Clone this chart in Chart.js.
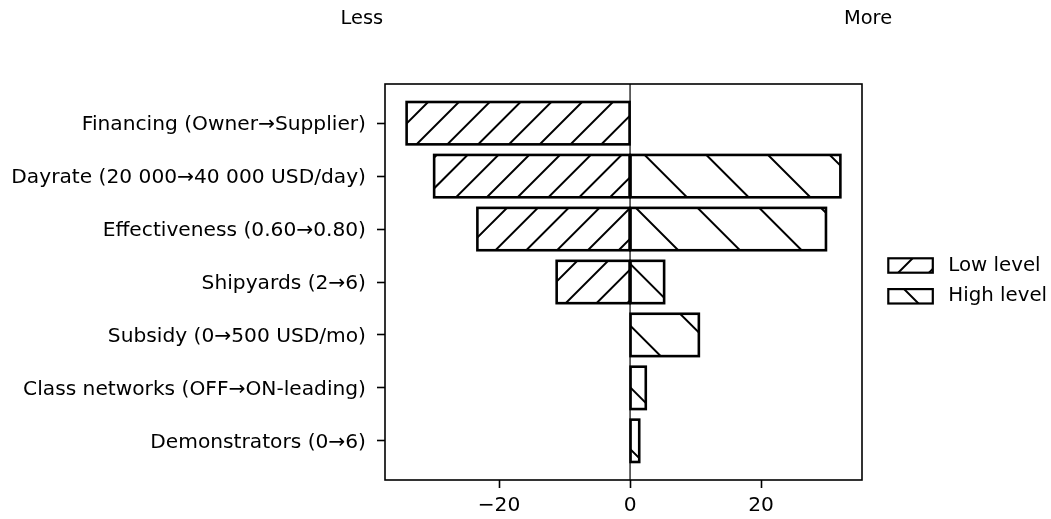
<!DOCTYPE html>
<html>
<head>
<meta charset="utf-8">
<script src="https://cdn.jsdelivr.net/npm/chart.js@4.4.1/dist/chart.umd.min.js"></script>
<style>
  html, body { margin: 0; padding: 0; background: #fff; }
  canvas { display: block; }
</style>
</head>
<body>
<canvas id="tornado" width="1051" height="519"></canvas>
<script>
// Drivers, top to bottom
const categories = [
  'Financing (Owner→Supplier)',
  'Dayrate (20 000→40 000 USD/day)',
  'Effectiveness (0.60→0.80)',
  'Shipyards (2→6)',
  'Subsidy (0→500 USD/mo)',
  'Class networks (OFF→ON-leading)',
  'Demonstrators (0→6)'
];
// Change in outcome when each driver is set to its low / high level
const lowLevel  = [-34.1, -29.9, -23.3, -11.2, 0, 0, 0];
const highLevel = [0, 32.1, 29.9, 5.2, 10.5, 2.4, 1.4];
const seriesNames = ['Low level', 'High level'];
const xTickValues = [-20, 0, 20];
const sideLabels = ['Less', 'More'];

const FONT_FAMILY = "'DejaVu Sans', sans-serif";
const TICK_FONT_SIZE = 20.2;
const LEGEND_FONT_SIZE = 19.8;
const SIDE_FONT_SIZE = 19.4;
const hatchStyles = ['/', '\\'];
const HATCH = {
  '/':  { spacing: 30.8, phase: 6.5 },
  '\\': { spacing: 61.7, phase: 57.8 }
};

// Diagonal hatch lines clipped to a rectangle, on a grid anchored to the canvas
function drawHatch(ctx, x, y, w, h, style, phaseOverride) {
  const cfg = HATCH[style];
  const s = cfg.spacing;
  const phase = phaseOverride !== undefined ? phaseOverride : cfg.phase;
  ctx.save();
  ctx.beginPath();
  ctx.rect(x, y, w, h);
  ctx.clip();
  ctx.beginPath();
  if (style === '/') {
    const cMin = x + y, cMax = x + w + y + h;
    for (let c = phase + Math.ceil((cMin - phase) / s) * s; c <= cMax + s; c += s) {
      ctx.moveTo(c - y + 3, y - 3);
      ctx.lineTo(c - (y + h) - 3, y + h + 3);
    }
  } else {
    const cMin = x - (y + h), cMax = x + w - y;
    for (let c = phase + Math.floor((cMin - phase) / s) * s; c <= cMax + s; c += s) {
      ctx.moveTo(c + y - 3, y - 3);
      ctx.lineTo(c + y + h + 3, y + h + 3);
    }
  }
  ctx.lineWidth = 2;
  ctx.strokeStyle = '#000';
  ctx.stroke();
  ctx.restore();
}

const tornadoDecor = {
  id: 'tornadoDecor',
  beforeDatasetsDraw(chart) {
    const { ctx, chartArea: a, scales: { x } } = chart;
    const x0 = x.getPixelForValue(0);
    ctx.save();
    ctx.strokeStyle = '#000';
    ctx.lineWidth = 1.2;
    ctx.beginPath();
    ctx.moveTo(x0, a.top);
    ctx.lineTo(x0, a.bottom);
    ctx.stroke();
    ctx.restore();
  },
  afterDatasetsDraw(chart) {
    const ctx = chart.ctx;
    chart.data.datasets.forEach((ds, di) => {
      const meta = chart.getDatasetMeta(di);
      meta.data.forEach(el => {
        const p = el.getProps(['x', 'y', 'base', 'height'], true);
        const left = Math.min(p.x, p.base);
        const w = Math.abs(p.x - p.base);
        if (w < 0.5) return;
        const top = p.y - p.height / 2;
        drawHatch(ctx, left, top, w, p.height, hatchStyles[di]);
        ctx.save();
        ctx.strokeStyle = '#000';
        ctx.lineWidth = 2.6;
        ctx.strokeRect(left, top, w, p.height);
        ctx.restore();
      });
    });
  },
  afterDraw(chart) {
    const { ctx, chartArea: a, width } = chart;
    ctx.save();
    // axes frame
    ctx.strokeStyle = '#000';
    ctx.lineWidth = 1.6;
    ctx.strokeRect(a.left, a.top, a.right - a.left, a.bottom - a.top);

    // direction labels above the plot
    ctx.fillStyle = '#000';
    ctx.font = SIDE_FONT_SIZE + 'px ' + FONT_FAMILY;
    ctx.textAlign = 'center';
    ctx.textBaseline = 'alphabetic';
    ctx.fillText(sideLabels[0], width * 0.3443, 24);
    ctx.fillText(sideLabels[1], width * 0.8259, 24);

    // legend
    ctx.font = LEGEND_FONT_SIZE + 'px ' + FONT_FAMILY;
    const midY = (a.top + a.bottom) / 2;
    const boxX = a.right + 26.3, boxW = 44.5, boxH = 14.4;
    const rows = [midY - 16.5, midY + 14.3];
    const legendPhase = [0.5, 59.7];
    seriesNames.forEach((name, i) => {
      const cy = rows[i];
      const by = cy - boxH / 2;
      ctx.fillStyle = '#fff';
      ctx.fillRect(boxX, by, boxW, boxH);
      drawHatch(ctx, boxX, by, boxW, boxH, hatchStyles[i], legendPhase[i]);
      ctx.strokeStyle = '#000';
      ctx.lineWidth = 2.2;
      ctx.strokeRect(boxX, by, boxW, boxH);
      ctx.fillStyle = '#000';
      ctx.textAlign = 'left';
      ctx.textBaseline = 'middle';
      ctx.fillText(name, boxX + 60, cy);
    });
    ctx.restore();
  }
};

const tickFont = { family: FONT_FAMILY, size: TICK_FONT_SIZE };
const axisGrid = {
  offset: false,
  drawOnChartArea: false,
  drawTicks: true,
  tickLength: 8,
  tickWidth: 1.6,
  tickColor: '#000',
  color: '#000'
};

new Chart(document.getElementById('tornado'), {
  type: 'bar',
  data: {
    datasets: [
      {
        label: seriesNames[0],
        data: lowLevel.map((v, i) => ({ x: v, y: i })),
        backgroundColor: '#fff',
        borderWidth: 0
      },
      {
        label: seriesNames[1],
        data: highLevel.map((v, i) => ({ x: v, y: i })),
        backgroundColor: '#fff',
        borderWidth: 0
      }
    ]
  },
  options: {
    indexAxis: 'y',
    responsive: false,
    animation: false,
    devicePixelRatio: 1,
    datasets: {
      bar: { barPercentage: 0.8, categoryPercentage: 1.0 }
    },
    layout: { padding: { top: 84, right: 189, left: 0, bottom: 0 } },
    scales: {
      x: {
        type: 'linear',
        stacked: true,
        offset: false,
        min: -37.4,
        max: 35.4,
        grid: axisGrid,
        border: { display: false },
        afterBuildTicks(scale) {
          scale.ticks = xTickValues.map(v => ({ value: v }));
        },
        afterFit(scale) { scale.height = 39; },
        ticks: {
          font: tickFont,
          color: '#000',
          padding: 6,
          maxRotation: 0,
          autoSkip: false,
          callback: v => (v < 0 ? '\u2212' + Math.abs(v) : String(v))
        }
      },
      y: {
        type: 'linear',
        stacked: true,
        reverse: true,
        offset: false,
        min: -0.74,
        max: 6.74,
        grid: axisGrid,
        border: { display: false },
        afterBuildTicks(scale) {
          scale.ticks = categories.map((_, i) => ({ value: i }));
        },
        afterFit(scale) { scale.width = 385; },
        ticks: {
          font: tickFont,
          color: '#000',
          padding: 11,
          labelOffset: 1.5,
          autoSkip: false,
          callback: v => categories[v]
        }
      }
    },
    plugins: {
      legend: { display: false },
      tooltip: { enabled: false },
      colors: { enabled: false }
    }
  },
  plugins: [tornadoDecor]
});
</script>
</body>
</html>
